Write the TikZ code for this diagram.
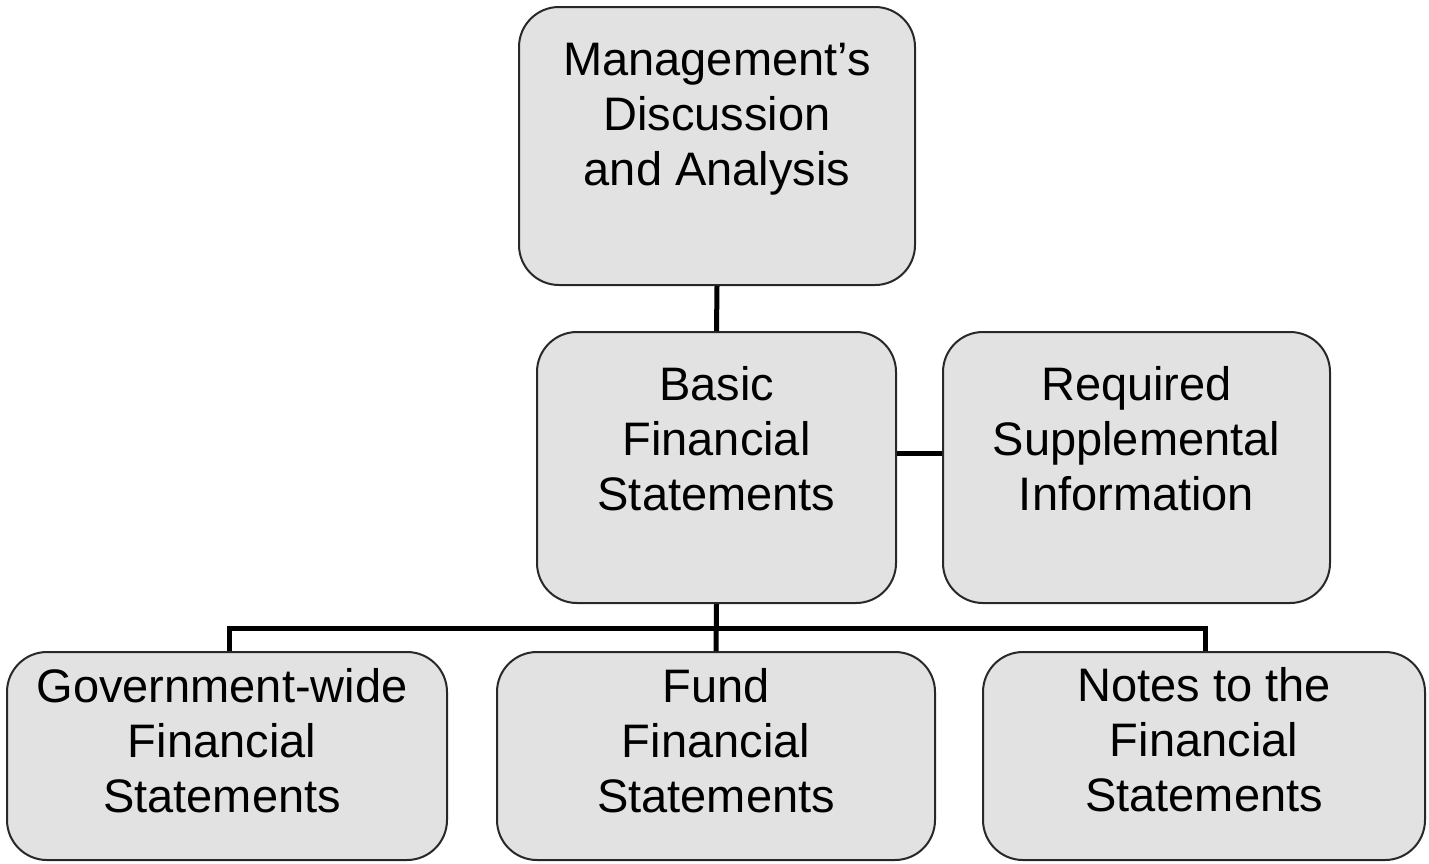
\documentclass[tikz,border=0pt]{standalone}
\usepackage{fontspec}
\setmainfont{Liberation Sans}
\definecolor{boxfill}{RGB}{226,226,226}
\definecolor{boxline}{RGB}{40,40,40}
\begin{document}
\begin{tikzpicture}[x=1pt,y=-1pt,
  box/.style={draw=boxline,line width=2pt,fill=boxfill,rounded corners=40pt,inner sep=0pt},
  lbl/.style={anchor=north,inner sep=0pt,align=center,font=\fontsize{47}{55}\selectfont},
  conn/.style={line width=5pt,black}]
\useasboundingbox (0,0) rectangle (1429,863);
% boxes
\node[box,minimum width=396pt,minimum height=278pt] (mda) at (717,146) {};
\node[box,minimum width=359pt,minimum height=271pt] (bfs) at (716.5,467.5) {};
\node[box,minimum width=387pt,minimum height=271pt] (rsi) at (1136.5,467.5) {};
\node[box,minimum width=440pt,minimum height=208pt] (gw) at (227,756) {};
\node[box,minimum width=438pt,minimum height=208pt] (fund) at (716,756) {};
\node[box,minimum width=442pt,minimum height=208pt] (notes) at (1204,756) {};
% labels
\node[lbl] (tmda) at (717,36.5) {\strut Management's\\Discussion\\and Analysis};
\node[lbl] (tbfs) at (716.5,361.5) {\strut Basic\\Financial\\Statements};
\node[lbl] (trsi) at (1136.5,361.5) {\strut Required\\Supplemental\\Information};
\node[lbl] (tgw) at (222,663.5) {\strut Government-wide\\Financial\\Statements};
\node[lbl] (tfund) at (716,663.5) {\strut Fund\\Financial\\Statements};
\node[lbl] (tnotes) at (1204,662.5) {\strut Notes to the\\Financial\\Statements};
% connectors
\coordinate (bus) at (716.5,628);
\draw[conn] (mda.south) -- (bfs.north);
\draw[conn] (bfs.east |- 0,453) -- (rsi.west |- 0,453);
\draw[conn] (bfs.south) -- (fund.north);
\draw[conn] (gw.north -| 229,0) |- (bus) -| (notes.north -| 1205,0);
\end{tikzpicture}
\end{document}
